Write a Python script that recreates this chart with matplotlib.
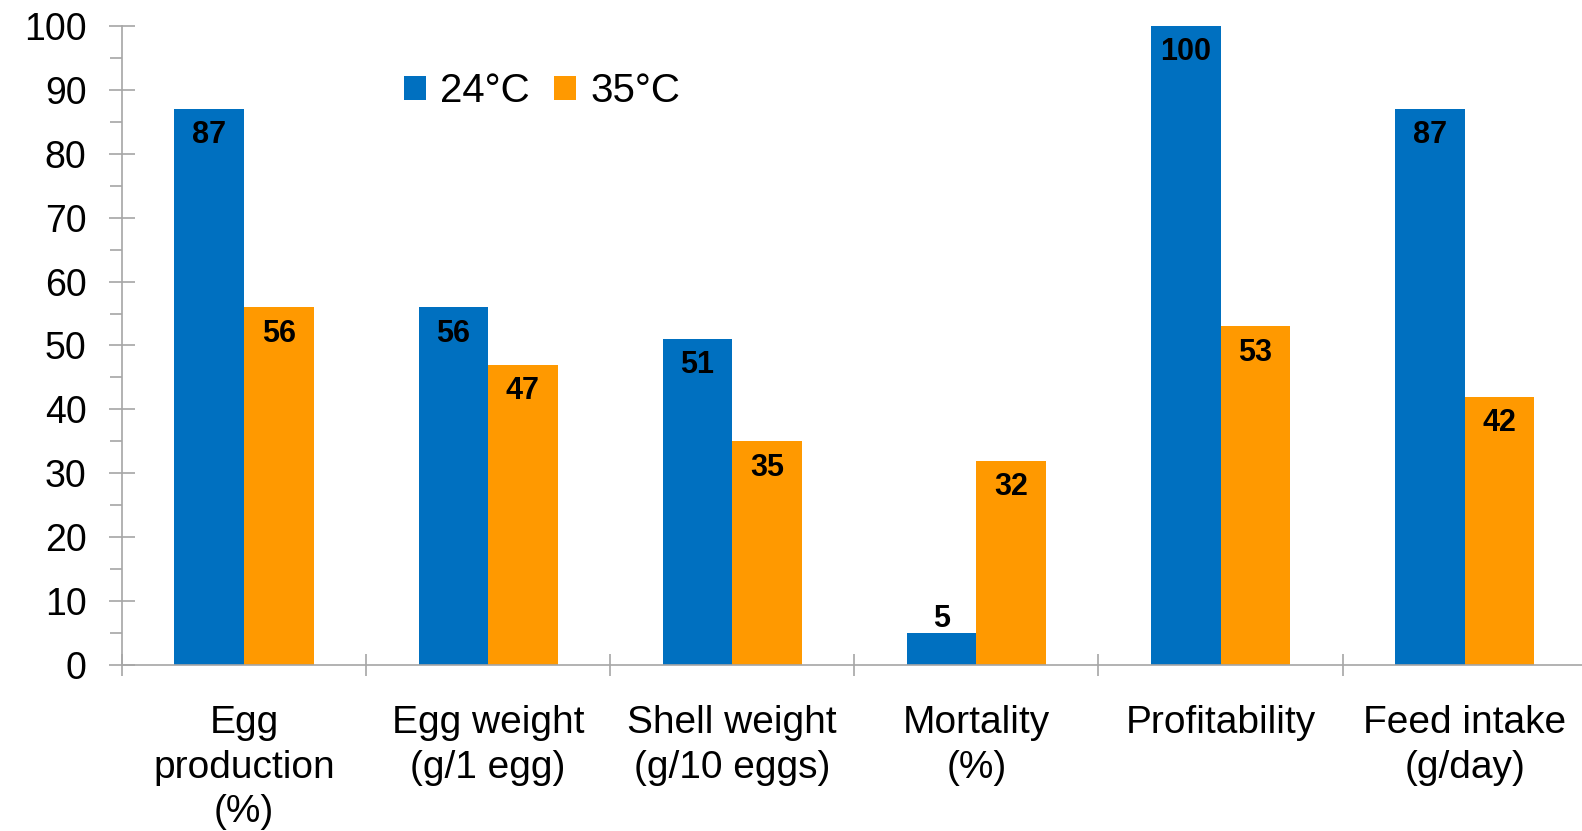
import numpy as np
import matplotlib
matplotlib.use("Agg")
from matplotlib import pyplot as plt
from matplotlib.ticker import MultipleLocator, FixedLocator

plt.rcParams['font.family'] = ['Liberation Sans', 'DejaVu Sans']

categories = ["Egg\nproduction\n(%)", "Egg weight\n(g/1 egg)", "Shell weight\n(g/10 eggs)",
              "Mortality\n(%)", "Profitability", "Feed intake\n(g/day)"]
temp_24 = [87, 56, 51, 5, 100, 87]
temp_35 = [56, 47, 35, 32, 53, 42]
series_names = ["24°C", "35°C"]

blue = "#0070C0"
orange = "#FF9900"
axis_grey = "#A6A6A6"

fig = plt.figure(figsize=(15.82, 8.31), dpi=100)
ax = fig.add_axes([122 / 1582, 1 - 665 / 831, 1 - 122 / 1582 + 0.003, (665 - 26) / 831])

x = np.arange(len(categories))
w = 0.285
b1 = ax.bar(x - w / 2, temp_24, w, color=blue, label=series_names[0])
b2 = ax.bar(x + w / 2, temp_35, w, color=orange, label=series_names[1])

# value labels: inside near the top, or above for short bars
for bars, vals in [(b1, temp_24), (b2, temp_35)]:
    for rect, v in zip(bars, vals):
        cx = rect.get_x() + rect.get_width() / 2
        dy = 10 if v < 10 else -19
        ax.annotate(str(v), (cx, v), xytext=(0, dy), textcoords="offset points",
                    ha="center", va="center", fontsize=22, fontweight="bold")

ax.set_xlim(-0.5, len(categories) - 0.5)
ax.set_ylim(0, 100)

ax.yaxis.set_major_locator(MultipleLocator(10))
ax.yaxis.set_minor_locator(MultipleLocator(5))
ax.tick_params(axis="y", which="major", direction="inout", length=19, width=1.2,
               color=axis_grey, labelsize=27, pad=16)
ax.tick_params(axis="y", which="minor", direction="out", length=9, width=1.2, color=axis_grey)

# category boundaries as major ticks, names on minor ticks at centres
ax.xaxis.set_major_locator(FixedLocator(np.arange(-0.5, len(categories), 1.0)))
ax.xaxis.set_major_formatter(plt.NullFormatter())
ax.xaxis.set_minor_locator(FixedLocator(x))
ax.set_xticklabels(categories, minor=True)
ax.tick_params(axis="x", which="major", direction="inout", length=16, width=1.2, color=axis_grey)
ax.tick_params(axis="x", which="minor", length=0, labelsize=28, pad=29)
for lbl in ax.get_xticklabels(minor=True):
    lbl.set_linespacing(1.3)

for side in ["top", "right"]:
    ax.spines[side].set_visible(False)
for side in ["left", "bottom"]:
    ax.spines[side].set_color(axis_grey)
    ax.spines[side].set_linewidth(1.2)

ax.legend(loc="upper left", bbox_to_anchor=(404 / 1582, 1 - 72 / 831),
          bbox_transform=fig.transFigure, ncol=2, frameon=False, fontsize=29,
          handlelength=0.55, handleheight=0.55, handletextpad=0.35, columnspacing=0.6,
          borderaxespad=0, borderpad=0)

fig.savefig("out.png", dpi=100)
